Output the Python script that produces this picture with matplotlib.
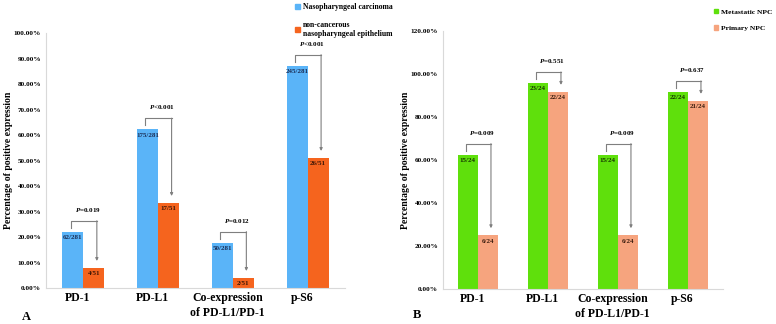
import numpy as np
import matplotlib
matplotlib.use('Agg')
import matplotlib.pyplot as plt
from matplotlib.patches import Patch
from matplotlib.transforms import ScaledTranslation

plt.rcParams['font.family'] = ['Liberation Serif', 'DejaVu Serif']
plt.rcParams['font.weight'] = 'bold'
plt.rcParams['mathtext.fontset'] = 'custom'
plt.rcParams['mathtext.it'] = 'Liberation Serif:bold:italic'
plt.rcParams['mathtext.rm'] = 'Liberation Serif:bold'

# categories
groups = ['PD-1', 'PD-L1', 'Co-expression\nof PD-L1/PD-1', 'p-S6']

# panel A: NPC vs non-cancerous epithelium (% positive)
npc_vals = [22.06, 62.28, 17.79, 87.19]
npc_labels = ['62/281', '175/281', '50/281', '245/281']
norm_vals = [7.84, 33.33, 3.92, 50.98]
norm_labels = ['4/51', '17/51', '2/51', '26/51']
p_a = ['=0.019', '<0.001', '=0.012', '<0.001']

# panel B: metastatic vs primary NPC (% positive)
met_vals = [62.5, 95.83, 62.5, 91.67]
met_labels = ['15/24', '23/24', '15/24', '22/24']
prim_vals = [25.0, 91.67, 25.0, 87.5]
prim_labels = ['6/24', '22/24', '6/24', '21/24']
p_b = ['=0.009', '=0.551', '=0.009', '=0.637']

fig = plt.figure(figsize=(7.76, 3.24), dpi=100)
axA = fig.add_axes([0.0593, 0.1111, 0.3853, 0.787])
axB = fig.add_axes([0.5709, 0.108, 0.3608, 0.7963])

gray = '#7f7f7f'


def panel(ax, v1, l1, c1, t1, v2, l2, c2, t2, pvals, w, ymax, ystep, axh_px):
    x = np.arange(len(groups))
    px = ymax / axh_px  # data units per pixel
    ax.bar(x - w / 2, v1, w, color=c1)
    ax.bar(x + w / 2, v2, w, color=c2)
    for i in range(len(x)):
        ax.annotate(l1[i], (x[i] - w / 2, v1[i]), xytext=(0, -2.5), textcoords='offset points',
                    ha='center', va='top', fontsize=5, color=t1, fontweight='bold')
        ax.annotate(l2[i], (x[i] + w / 2, v2[i]), xytext=(0, -2.5), textcoords='offset points',
                    ha='center', va='top', fontsize=5, color=t2, fontweight='bold')
        # bracket with arrow
        xl = x[i] - w / 2 - 0.03
        xr = x[i] + w / 2 + 0.04
        top = v1[i] + 11 * px
        ax.plot([xl, xl, xr], [v1[i] + 4 * px, top, top], color=gray, lw=0.8)
        ax.annotate('', xy=(xr, v2[i] + 7 * px), xytext=(xr, top),
                    arrowprops=dict(arrowstyle='-|>', color=gray, lw=0.8,
                                    mutation_scale=4, shrinkA=0, shrinkB=0))
        ax.text((xl + xr) / 2 + 0.05, top + 11 * px, '$P$' + pvals[i],
                ha='center', va='center', fontsize=5)
    ax.set_xlim(-0.5, 3.5)
    ax.set_ylim(0, ymax)
    ticks = np.arange(0, ymax + 0.1, ystep)
    ax.set_yticks(ticks)
    ax.set_yticklabels(['%.2f%%' % t for t in ticks], fontsize=5.2, fontweight='bold')
    ax.set_xticks(x)
    ax.set_xticklabels(groups, fontsize=8.5, linespacing=1.3, fontweight='bold')
    ax.tick_params(length=0, pad=3.5)
    ax.tick_params(axis='x', pad=3)
    for lab in ax.get_xticklabels():
        lab.set_transform(lab.get_transform() + ScaledTranslation(-4 / 72, 0, fig.dpi_scale_trans))
    for s in ['top', 'right']:
        ax.spines[s].set_visible(False)
    for s in ['left', 'bottom']:
        ax.spines[s].set_color('#d9d9d9')
        ax.spines[s].set_linewidth(0.8)
    ax.set_ylabel('Percentage of positive expression', fontsize=7, labelpad=0.5,
                  fontweight='bold')


panel(axA, npc_vals, npc_labels, '#5ab4f8', '#1b2d55',
      norm_vals, norm_labels, '#f5641e', '#3a1505', p_a, 0.28, 100, 10, 255)
panel(axB, met_vals, met_labels, '#5fe00c', '#173800',
      prim_vals, prim_labels, '#f6a47e', '#3d1f10', p_b, 0.29, 120, 20, 258)

axA.legend(handles=[Patch(color='#5ab4f8', label='Nasopharyngeal carcinoma'),
                    Patch(color='#f5641e', label='non-cancerous\nnasopharyngeal epithelium')],
           loc='upper left', bbox_to_anchor=(0.378, 0.995), bbox_transform=fig.transFigure,
           frameon=False, fontsize=5.6, handlelength=0.6, handleheight=0.6, handletextpad=0.4,
           labelspacing=1.2, borderpad=0.2, borderaxespad=0)
axB.legend(handles=[Patch(color='#5fe00c', label='Metastatic NPC'),
                    Patch(color='#f6a47e', label='Primary NPC')],
           loc='upper left', bbox_to_anchor=(0.918, 0.978), bbox_transform=fig.transFigure,
           frameon=False, fontsize=5.4, handlelength=0.6, handleheight=0.6, handletextpad=0.4,
           labelspacing=1.4, borderpad=0.2, borderaxespad=0)

fig.text(26 / 776, 1 - 317 / 324, 'A', fontsize=9, ha='center', va='center')
fig.text(417 / 776, 1 - 315 / 324, 'B', fontsize=9, ha='center', va='center')

fig.savefig('out.png', dpi=100)
